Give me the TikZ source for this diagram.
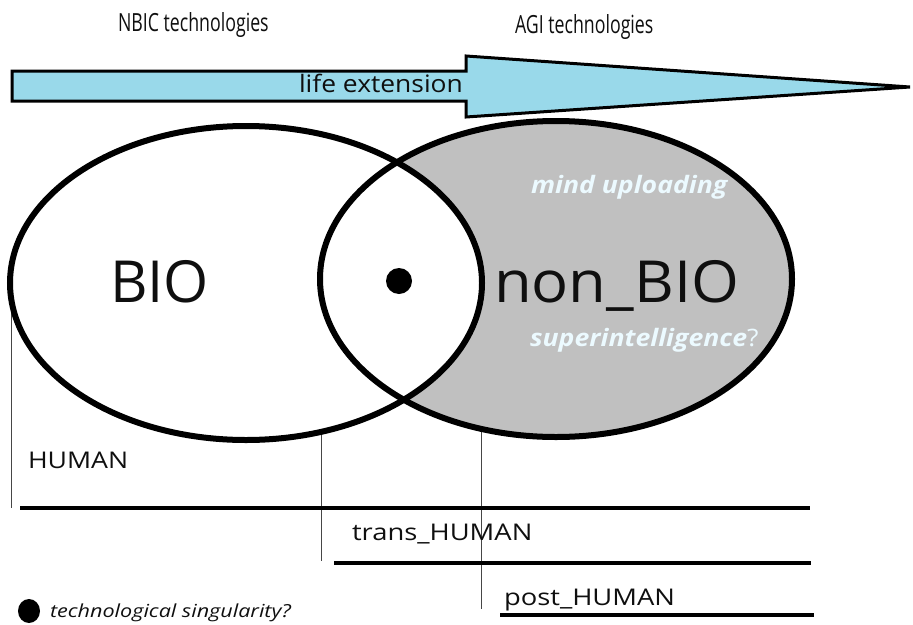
\documentclass[tikz,border=0pt]{standalone}
\usepackage{fontspec}
\setmainfont{Open Sans}
\definecolor{arrowblue}{RGB}{153,217,234}
\definecolor{ellgrey}{RGB}{192,192,192}
\definecolor{paleblue}{RGB}{236,250,255}
\definecolor{thinline}{RGB}{70,70,70}
\definecolor{txt}{RGB}{15,15,15}
\newcommand{\wide}[2]{\scalebox{#1}[1]{#2}}
\begin{document}
\begin{tikzpicture}[x=1pt,y=-1pt,
  lbl/.style={anchor=base west, inner sep=0pt, outer sep=0pt, text=txt},
  ellline/.style={line width=6pt},
  bar/.style={line width=4pt},
  guide/.style={line width=1pt, draw=thinline},
  bigtxt/.style={font=\fontsize{58}{62}\selectfont},
  midtxt/.style={font=\fontsize{23}{26}\selectfont},
  pale/.style={text=paleblue, font=\fontsize{24}{27}\selectfont\bfseries\itshape},
]
\useasboundingbox (0,0) rectangle (913,624);
% top labels
\node[lbl] (nbic) at (118,31) {\fontsize{25}{28}\selectfont\wide{0.71}{NBIC technologies}};
\node[lbl] (agi) at (515,33) {\fontsize{25}{28}\selectfont\wide{0.71}{AGI technologies}};
% arrow
\draw[line width=3pt, fill=arrowblue, line join=miter]
  (12,71) -- (466,71) -- (466,56) -- (910,87) -- (466,117) -- (466,101) -- (12,101) -- cycle;
\node[lbl] (life) at (299,92) {\fontsize{24}{28}\selectfont\wide{1.1}{life extension}};
% guide lines
\coordinate (g1t) at (11,305); \coordinate (g1b) at (11,508);
\coordinate (g2t) at (321,305); \coordinate (g2b) at (321,561);
\coordinate (g3t) at (481,305); \coordinate (g3b) at (481,609);
\draw[guide] (g1t) -- (g1b);
\draw[guide] (g2t) -- (g2b);
\draw[guide] (g3t) -- (g3b);
% ellipses
\fill[ellgrey] (556,279) ellipse [x radius=236, y radius=158];
\fill[white] (246,283) ellipse [x radius=236, y radius=157];
\draw[ellline] (556,279) ellipse [x radius=236, y radius=158];
\draw[ellline] (246,283) ellipse [x radius=236, y radius=157];
\fill (399,281) circle (13);
% ellipse texts
\node[lbl, bigtxt] (bio) at (110,302) {BIO};
\node[lbl, bigtxt] (nonbio) at (494,302) {\wide{1.06}{non\_BIO}};
\node[lbl, pale] (mind) at (531,193) {\wide{1.11}{mind uploading}};
\node[lbl, pale] (super) at (530,346) {\wide{1.11}{superintelligence{\mdseries\upshape ?}}};
% bars
\coordinate (b1l) at (20,508); \coordinate (b1r) at (810,508);
\coordinate (b2l) at (334,563); \coordinate (b2r) at (811,563);
\coordinate (b3l) at (500,615); \coordinate (b3r) at (814,615);
\draw[bar] (b1l) -- (b1r);
\draw[bar] (b2l) -- (b2r);
\draw[bar] (b3l) -- (b3r);
\node[lbl, midtxt] (human) at (28,468) {\wide{1.16}{HUMAN}};
\node[lbl, midtxt] (trans) at (352,540) {\wide{1.19}{trans\_HUMAN}};
\node[lbl, midtxt] (post) at (504,605) {\wide{1.19}{post\_HUMAN}};
% legend
\fill (29,611) ellipse [x radius=11, y radius=12];
\node[lbl, font=\fontsize{18}{20}\selectfont\itshape] (sing) at (50,617) {\wide{1.2}{technological singularity?}};
\end{tikzpicture}
\end{document}
